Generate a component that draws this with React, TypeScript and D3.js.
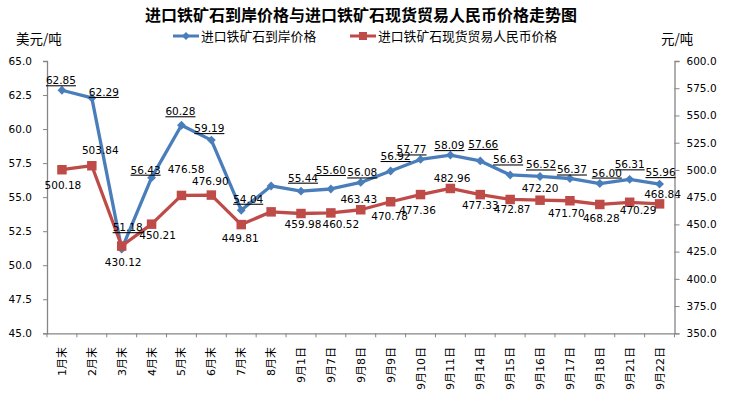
import React, { useEffect, useRef } from 'react';
import * as d3 from 'd3';

// categories on the x axis
const categories = ['1月末', '2月末', '3月末', '4月末', '5月末', '6月末', '7月末', '8月末',
  '9月1日', '9月7日', '9月8日', '9月9日', '9月10日', '9月11日', '9月14日', '9月15日',
  '9月16日', '9月17日', '9月18日', '9月21日', '9月22日'];

// 进口铁矿石到岸价格 (美元/吨, left axis)
const landedPrice = [62.85, 62.29, 51.18, 56.43, 60.28, 59.19, 54.04, 55.82, 55.44, 55.60, 56.08,
  56.92, 57.77, 58.09, 57.66, 56.63, 56.52, 56.37, 56.00, 56.31, 55.96];

// 进口铁矿石现货贸易人民币价格 (元/吨, right axis)
const spotPrice = [500.18, 503.84, 430.12, 450.21, 476.58, 476.90, 449.81, 461.5, 459.98, 460.52, 463.43,
  470.78, 477.36, 482.96, 477.33, 472.87, 472.20, 471.70, 468.28, 470.29, 468.84];

// which points carry a value label (8月末 has none)
const hasLabel = categories.map(c => c !== '8月末');

const leftTicks = [45, 47.5, 50, 52.5, 55, 57.5, 60, 62.5, 65];
const rightTicks = [350, 375, 400, 425, 450, 475, 500, 525, 550, 575, 600];

// hand placed label offsets [dx, dy] from the point (like the excel original)
const blueOffsets = [[-1, -6], [12, -2], [6, -18], [-6, -4], [-1, -10], [-2, -8], [7, -7.5], [0, 0],
  [2, -9.5], [0, -15], [1.5, -6], [5, -11], [-9, -6], [-1, -6], [3, -13], [-2, -11.5], [1, -8],
  [2, -5], [7, -7], [0, -11], [1, -8]];
const redOffsets = [[1, 19.6], [8.5, -11.7], [1.5, 19.7], [6, 15], [4.6, -22], [-1, -10], [-1, 17.7], [0, 0],
  [2, 14], [10, 15], [-2, -6.5], [-1, 18], [-3, 19], [1.7, -6], [0, 14], [2, 14], [0, -8.4],
  [-3.6, 16], [1.5, 18], [8.4, 12], [3, -5.6]];

const BLUE = '#4A7EBB';
const RED = '#BE4B48';
const NUM_FONT = '"DejaVu Sans", sans-serif';
const CJK_FONT = '"Noto Sans CJK SC", sans-serif';

export default function App() {
  const ref = useRef<SVGSVGElement>(null);

  useEffect(() => {
    const width = 732;
    const height = 398;
    const left = 47;
    const right = 674.5;
    const top = 61;
    const bottom = 333.3;

    const svg = d3.select(ref.current);
    svg.selectAll('*').remove();

    const x = d3.scaleBand().domain(categories).range([left, right]);
    const yL = d3.scaleLinear().domain([45, 65]).range([bottom, top]);
    const yR = d3.scaleLinear().domain([350, 600]).range([bottom, top]);
    const cx = (i: number) => (x(categories[i]) as number) + x.bandwidth() / 2;

    svg.append('rect').attr('width', width).attr('height', height).attr('fill', '#fff');

    // title
    svg.append('text')
      .attr('x', 361).attr('y', 21)
      .attr('text-anchor', 'middle')
      .style('font-family', CJK_FONT)
      .style('font-weight', 'bold')
      .style('font-size', '16px')
      .attr('fill', '#000')
      .text('进口铁矿石到岸价格与进口铁矿石现货贸易人民币价格走势图');

    // unit labels
    svg.append('text').attr('x', 16).attr('y', 44)
      .style('font-family', CJK_FONT).style('font-size', '13.5px').attr('fill', '#000')
      .text('美元/吨');
    svg.append('text').attr('x', 661).attr('y', 44)
      .style('font-family', CJK_FONT).style('font-size', '13.5px').attr('fill', '#000')
      .text('元/吨');

    // legend
    const legend = [
      { name: '进口铁矿石到岸价格', color: BLUE, x: 173, marker: 'diamond' },
      { name: '进口铁矿石现货贸易人民币价格', color: RED, x: 350, marker: 'square' },
    ];
    legend.forEach(l => {
      const g = svg.append('g');
      g.append('line').attr('x1', l.x).attr('x2', l.x + 26).attr('y1', 36).attr('y2', 36)
        .attr('stroke', l.color).attr('stroke-width', 3);
      g.append('path')
        .attr('d', d3.symbol(l.marker === 'diamond' ? d3.symbolDiamond2 : d3.symbolSquare, l.marker === 'diamond' ? 40 : 64)())
        .attr('transform', `translate(${l.x + 13},36)`)
        .attr('fill', l.color);
      g.append('text').attr('x', l.x + 28).attr('y', 40.5)
        .style('font-family', CJK_FONT).style('font-size', '12.8px').attr('fill', '#000')
        .text(l.name);
    });

    // axes
    const axisColor = '#868686';
    const gL = svg.append('g').attr('transform', `translate(${left},0)`)
      .call(d3.axisLeft(yL).tickValues(leftTicks).tickFormat(d3.format('.1f')).tickSize(4).tickPadding(11));
    const gR = svg.append('g').attr('transform', `translate(${right},0)`)
      .call(d3.axisRight(yR).tickValues(rightTicks).tickFormat(d3.format('.1f')).tickSize(5).tickPadding(7));
    const gX = svg.append('g').attr('transform', `translate(0,${bottom})`)
      .call(d3.axisBottom(x).tickSize(0).tickFormat(() => ''));
    [gL, gR, gX].forEach(g => {
      g.select('.domain').attr('stroke', axisColor).attr('stroke-width', 1.3);
      g.selectAll('.tick line').attr('stroke', axisColor);
      g.selectAll('text').style('font-family', NUM_FONT).style('font-size', '10.5px').attr('fill', '#000');
    });

    // x ticks at category boundaries
    const bounds = d3.range(categories.length + 1).map(i => left + i * x.step());
    svg.append('g').selectAll('line').data(bounds).enter().append('line')
      .attr('x1', d => d).attr('x2', d => d).attr('y1', bottom).attr('y2', bottom + 4)
      .attr('stroke', axisColor);

    // x labels, rotated
    svg.append('g').selectAll('text').data(categories).enter().append('text')
      .attr('transform', (d, i) => `translate(${cx(i) + 4},347) rotate(-90)`)
      .attr('text-anchor', 'end')
      .style('font-family', '"DejaVu Sans", "Noto Sans CJK SC", sans-serif')
      .style('font-size', '11px')
      .attr('fill', '#000')
      .text(d => d);

    // series lines
    const lineL = d3.line<number>().x((d, i) => cx(i)).y(d => yL(d));
    const lineR = d3.line<number>().x((d, i) => cx(i)).y(d => yR(d));

    svg.append('path').datum(landedPrice).attr('d', lineL)
      .attr('fill', 'none').attr('stroke', BLUE).attr('stroke-width', 3.3).attr('stroke-linejoin', 'round');
    svg.selectAll('.dia').data(landedPrice).enter().append('path')
      .attr('d', d3.symbol(d3.symbolDiamond2, 50)())
      .attr('transform', (d, i) => `translate(${cx(i)},${yL(d)})`)
      .attr('fill', BLUE);

    svg.append('path').datum(spotPrice).attr('d', lineR)
      .attr('fill', 'none').attr('stroke', RED).attr('stroke-width', 3.3).attr('stroke-linejoin', 'round');
    svg.selectAll('.sq').data(spotPrice).enter().append('path')
      .attr('d', d3.symbol(d3.symbolSquare, 90)())
      .attr('transform', (d, i) => `translate(${cx(i)},${yR(d)})`)
      .attr('fill', RED);

    // value labels (keep the original index so the offsets line up)
    const blueLabels = landedPrice.map((v, i) => ({ v, i })).filter(d => hasLabel[d.i]);
    const redLabels = spotPrice.map((v, i) => ({ v, i })).filter(d => hasLabel[d.i]);

    svg.append('g').selectAll('text').data(blueLabels).enter()
      .append('text')
      .attr('x', d => cx(d.i) + blueOffsets[d.i][0])
      .attr('y', d => yL(d.v) + blueOffsets[d.i][1])
      .attr('text-anchor', 'middle')
      .style('font-family', NUM_FONT).style('font-size', '10.5px')
      .style('text-decoration', 'underline')
      .attr('fill', '#000')
      .text(d => d.v.toFixed(2));

    svg.append('g').selectAll('text').data(redLabels).enter()
      .append('text')
      .attr('x', d => cx(d.i) + redOffsets[d.i][0])
      .attr('y', d => yR(d.v) + redOffsets[d.i][1])
      .attr('text-anchor', 'middle')
      .style('font-family', NUM_FONT).style('font-size', '10.5px')
      .attr('fill', '#000')
      .text(d => d.v.toFixed(2));
  }, []);

  return (
    <svg ref={ref} width={732} height={398} style={{ position: 'absolute', left: 0, top: 0 }} />
  );
}
